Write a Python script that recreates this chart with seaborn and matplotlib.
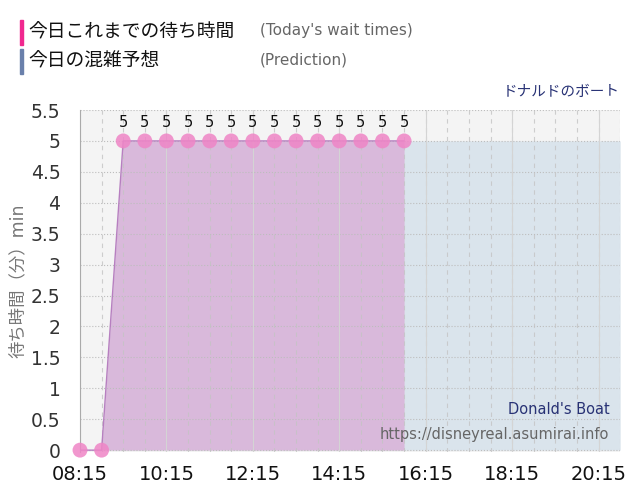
import matplotlib
matplotlib.use('Agg')
import matplotlib.pyplot as plt
import seaborn as sns
import pandas as pd
import numpy as np

# today's actual wait times (minutes), every 30 min
actual_times = ['08:15', '08:45', '09:15', '09:45', '10:15', '10:45', '11:15', '11:45',
                '12:15', '12:45', '13:15', '13:45', '14:15', '14:45', '15:15', '15:45']
actual_waits = [0, 0, 5, 5, 5, 5, 5, 5, 5, 5, 5, 5, 5, 5, 5, 5]

# prediction for the day
pred_times = ['08:45', '09:15', '09:45', '10:15', '10:45', '11:15', '11:45', '12:15',
              '12:45', '13:15', '13:45', '14:15', '14:45', '15:15', '15:45', '16:15',
              '16:45', '17:15', '17:45', '18:15', '18:45', '19:15', '19:45', '20:15', '20:45']
pred_waits = [0, 5, 5, 5, 5, 5, 5, 5, 5, 5, 5, 5, 5, 5, 5, 5, 5, 5, 5, 5, 5, 5, 5, 5, 5]

xtick_labels = ['08:15', '10:15', '12:15', '14:15', '16:15', '18:15', '20:15']
yticks = [0, 0.5, 1, 1.5, 2, 2.5, 3, 3.5, 4, 4.5, 5, 5.5]


def to_hours(t):
    h, m = t.split(':')
    return int(h) + int(m) / 60


sns.set_style('white')
plt.rcParams['font.family'] = ['DejaVu Sans', 'Noto Sans CJK JP']

actual = pd.DataFrame({'t': [to_hours(t) for t in actual_times], 'wait': actual_waits})
pred = pd.DataFrame({'t': [to_hours(t) for t in pred_times], 'wait': pred_waits})

fig = plt.figure(figsize=(6.4, 5), dpi=100)
ax = fig.add_axes([0.125, 0.096, 0.844, 0.684])
ax.set_facecolor('#f4f4f4')

# prediction area
ax.fill_between(pred['t'], 0, pred['wait'], color='#dae4ec', lw=0, zorder=1)
# actual area + line + points
ax.fill_between(actual['t'], 0, actual['wait'], color='#d98fcc', alpha=0.5, lw=0, zorder=2)
sns.lineplot(data=actual, x='t', y='wait', ax=ax, color='#b77fc0', lw=1, zorder=3)
sns.scatterplot(data=actual, x='t', y='wait', ax=ax, color='#ef85c6', s=115,
                edgecolor='none', alpha=0.85, zorder=4, clip_on=False)
for t, w in zip(actual['t'], actual['wait']):
    if w > 0:
        ax.text(t, w + 0.17, str(w), ha='center', va='bottom', fontsize=10.5, color='#111111', zorder=5)

x0 = to_hours('08:15')
ax.set_xlim(x0, to_hours('20:45'))
ax.set_ylim(-0.03, 5.5)

# grid drawn over the fills
for y in yticks:
    ax.axhline(y, color='#bdbdbd', lw=0.8, ls=':', zorder=2.5)
xt = [to_hours(t) for t in xtick_labels]
for t in pred['t']:
    ax.axvline(t, color='#c4c4c4', lw=0.8, ls=(0, (4, 4)), alpha=0.8, zorder=2.5)
for t in xt:
    ax.axvline(t, color='#d4d4d4', lw=0.8, zorder=2.5)

ax.set_xticks(xt)
ax.set_xticklabels(xtick_labels, fontsize=14, color='#111111')
ax.set_yticks(yticks)
ax.set_yticklabels(['0', '0.5', '1', '1.5', '2', '2.5', '3', '3.5', '4', '4.5', '5', '5.5'],
                   fontsize=13.5, color='#333333')
ax.tick_params(axis='x', length=10, color='#dcdcdc', pad=-1)
ax.tick_params(axis='y', length=0, pad=14)
ax.set_xlabel('')
ax.set_ylabel('待ち時間（分）min', fontsize=12.5, color='#777777', labelpad=3)

for s in ['top', 'right', 'bottom']:
    ax.spines[s].set_visible(False)
ax.spines['left'].set_color('#aaaaaa')
ax.spines['left'].set_linewidth(0.8)

# legend block at top
fig.patches.append(plt.Rectangle((20 / 640, 1 - 45 / 500), 3 / 640, 25 / 500,
                                 transform=fig.transFigure, color='#f0288f'))
fig.patches.append(plt.Rectangle((20 / 640, 1 - 74 / 500), 3 / 640, 25 / 500,
                                 transform=fig.transFigure, color='#6a80ab'))
fig.text(28 / 640, 1 - 32 / 500, '今日これまでの待ち時間', fontsize=13.5, color='#111111', va='center')
fig.text(260 / 640, 1 - 31 / 500, "(Today's wait times)", fontsize=11, color='#666666', va='center')
fig.text(28 / 640, 1 - 61 / 500, '今日の混雑予想', fontsize=13.5, color='#111111', va='center')
fig.text(260 / 640, 1 - 60 / 500, '(Prediction)', fontsize=11, color='#666666', va='center')
fig.text(620 / 640, 1 - 91 / 500, 'ドナルドのボート', fontsize=10.5, color='#283275', ha='right', va='center')

ax.text(0.98, 0.125, "Donald's Boat", transform=ax.transAxes, ha='right', va='center',
        fontsize=10.5, color='#283275')
ax.text(0.98, 0.05, 'https://disneyreal.asumirai.info', transform=ax.transAxes, ha='right',
        va='center', fontsize=10.5, color='#666666')

fig.savefig('out.png', dpi=100)
